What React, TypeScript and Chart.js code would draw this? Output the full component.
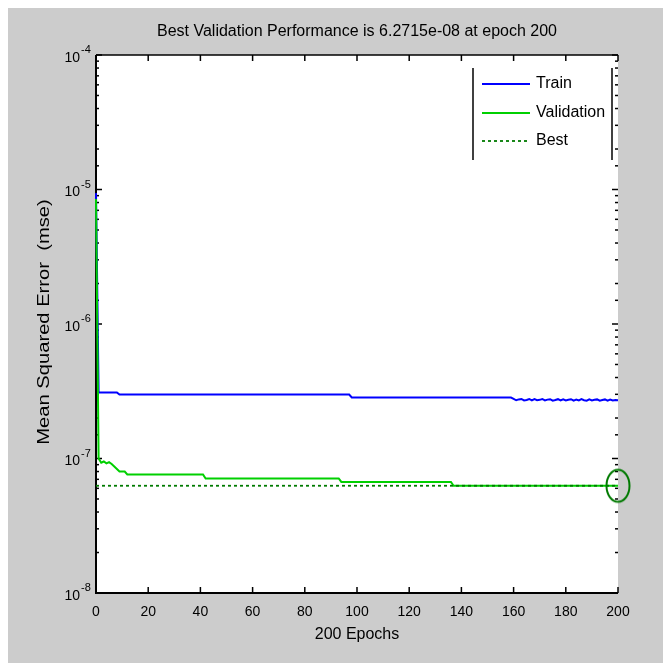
import React, { useEffect, useRef } from "react";
import { Chart, registerables } from "chart.js";

Chart.register(...registerables);

// ---------- data ----------
const titleText = "Best Validation Performance is 6.2715e-08 at epoch 200";
const xAxisTitle = "200 Epochs";
const yAxisTitle = "Mean Squared Error  (mse)";

const xTickValues = [0, 20, 40, 60, 80, 100, 120, 140, 160, 180, 200];
const yTickExponents = [-4, -5, -6, -7, -8];

const trainEpochs = [
  0, 1, 8, 9, 97, 98, 159,
  160, 161, 162, 163, 164, 165, 166, 167, 168, 169,
  170, 171, 172, 173, 174, 175, 176, 177, 178, 179,
  180, 181, 182, 183, 184, 185, 186, 187, 188, 189,
  190, 191, 192, 193, 194, 195, 196, 197, 198, 199, 200,
];
const trainValues = [
  9.4e-6, 3.1e-7, 3.1e-7, 2.985e-7, 2.985e-7, 2.84e-7, 2.84e-7,
  2.78e-7, 2.71e-7, 2.75e-7, 2.77e-7, 2.7e-7, 2.72e-7, 2.77e-7, 2.7e-7, 2.76e-7, 2.71e-7,
  2.73e-7, 2.77e-7, 2.7e-7, 2.74e-7, 2.76e-7, 2.69e-7, 2.72e-7, 2.76e-7, 2.7e-7, 2.75e-7,
  2.7e-7, 2.73e-7, 2.76e-7, 2.69e-7, 2.74e-7, 2.7e-7, 2.76e-7, 2.71e-7, 2.69e-7, 2.75e-7,
  2.7e-7, 2.73e-7, 2.75e-7, 2.69e-7, 2.72e-7, 2.75e-7, 2.69e-7, 2.74e-7, 2.7e-7, 2.72e-7, 2.71e-7,
];

const validationEpochs = [0, 1, 2, 3, 4, 5, 6, 9, 11, 12, 41, 42, 93, 94, 136, 137, 200];
const validationValues = [
  8.5e-6, 1.0e-7, 9.3e-8, 9.5e-8, 9.2e-8, 9.4e-8, 9.1e-8, 8.0e-8, 8.0e-8,
  7.6e-8, 7.6e-8, 7.1e-8, 7.1e-8, 6.7e-8, 6.7e-8, 6.2715e-8, 6.2715e-8,
];

const bestLineEpochs = [0, 200];
const bestEpoch = 200;
const bestValue = 6.2715e-8;

const legendLabels = ["Train", "Validation", "Best"];

// ---------- styles ----------
const FONT = '"Liberation Sans", Arial, Helvetica, sans-serif';
const TRAIN_COLOR = "#0000ff";
const VAL_COLOR = "#00d000";
const BEST_COLOR = "#007a00";

function makeEllipse(): HTMLCanvasElement {
  const c = document.createElement("canvas");
  c.width = 28;
  c.height = 37;
  const g = c.getContext("2d")!;
  g.strokeStyle = BEST_COLOR;
  g.lineWidth = 2;
  g.beginPath();
  g.ellipse(14, 18.5, 11.5, 16, 0, 0, Math.PI * 2);
  g.stroke();
  return c;
}

const line = (ctx: CanvasRenderingContext2D, x1: number, y1: number, x2: number, y2: number) => {
  ctx.beginPath();
  ctx.moveTo(x1, y1);
  ctx.lineTo(x2, y2);
  ctx.stroke();
};

const matlabPlugin = {
  id: "matlabLook",
  beforeDraw(chart: any) {
    const { ctx, chartArea: a } = chart;
    ctx.save();
    ctx.fillStyle = "#cccccc";
    ctx.fillRect(0, 0, chart.width, chart.height);
    ctx.fillStyle = "#ffffff";
    ctx.fillRect(a.left, a.top, a.right - a.left, a.bottom - a.top);
    ctx.restore();
  },
  beforeDatasetsDraw(chart: any) {
    const { ctx, chartArea: a, scales } = chart;
    const xs = scales.x;
    const ys = scales.y;
    ctx.save();
    ctx.strokeStyle = "#000";
    ctx.lineWidth = 1.5;
    for (const v of xTickValues) {
      const px = xs.getPixelForValue(v);
      line(ctx, px, a.bottom, px, a.bottom - 6);
      line(ctx, px, a.top, px, a.top + 6);
    }
    for (const t of ys.ticks) {
      const v = t.value;
      const lg = Math.log10(v);
      const major = Math.abs(lg - Math.round(lg)) < 1e-6;
      const len = major ? 6 : 3;
      const py = ys.getPixelForValue(v);
      if (py < a.top - 0.5 || py > a.bottom + 0.5) continue;
      line(ctx, a.left, py, a.left + len, py);
      line(ctx, a.right, py, a.right - len, py);
    }
    ctx.lineWidth = 2;
    line(ctx, a.left, a.top, a.left, a.bottom + 1);
    line(ctx, a.left - 1, a.bottom, a.right, a.bottom);
    ctx.lineWidth = 1.5;
    line(ctx, a.left, a.top, a.right, a.top);
    ctx.restore();
  },
  afterDraw(chart: any) {
    const { ctx, chartArea: a, scales } = chart;
    const xs = scales.x;
    const ys = scales.y;
    ctx.save();
    ctx.fillStyle = "#000";
    ctx.textBaseline = "middle";

    // tick labels
    ctx.font = `14px ${FONT}`;
    ctx.textAlign = "center";
    for (const v of xTickValues) {
      ctx.fillText(String(v), xs.getPixelForValue(v), a.bottom + 19);
    }
    for (const e of yTickExponents) {
      const py = ys.getPixelForValue(Math.pow(10, e));
      ctx.font = `14px ${FONT}`;
      ctx.textAlign = "right";
      ctx.fillText("10", a.left - 16, py + 3);
      ctx.font = `11px ${FONT}`;
      ctx.textAlign = "left";
      ctx.fillText(String(e), a.left - 15, py - 5);
    }

    // titles
    ctx.textAlign = "center";
    ctx.font = `16px ${FONT}`;
    ctx.fillText(titleText, (a.left + a.right) / 2, 24);
    ctx.fillText(xAxisTitle, (a.left + a.right) / 2, a.bottom + 42);
    ctx.save();
    ctx.translate(37, (a.top + a.bottom) / 2 - 2);
    ctx.rotate(-Math.PI / 2);
    ctx.scale(1.26, 1);
    ctx.fillText(yAxisTitle, 0, 0);
    ctx.restore();

    // legend
    const lx0 = a.right - 145;
    const lx1 = a.right - 6;
    ctx.strokeStyle = "#000";
    ctx.lineWidth = 1.5;
    line(ctx, lx0, a.top + 13, lx0, a.top + 105);
    line(ctx, lx1, a.top + 13, lx1, a.top + 105);
    const rows = [a.top + 29, a.top + 58, a.top + 86];
    const colors = [TRAIN_COLOR, VAL_COLOR, BEST_COLOR];
    rows.forEach((y, i) => {
      ctx.strokeStyle = colors[i];
      ctx.lineWidth = i === 2 ? 1.8 : 2;
      ctx.setLineDash(i === 2 ? [3, 3] : []);
      line(ctx, a.right - 136, y, a.right - 88, y);
      ctx.setLineDash([]);
      ctx.fillStyle = "#000";
      ctx.font = `16px ${FONT}`;
      ctx.textAlign = "left";
      ctx.fillText(legendLabels[i], a.right - 82, y);
    });
    ctx.restore();
  },
};

export default function App() {
  const ref = useRef<HTMLCanvasElement | null>(null);
  useEffect(() => {
    document.body.style.overflow = "hidden";
    const canvas = ref.current;
    if (!canvas) return;
    const ellipse = makeEllipse();
    const chart = new Chart(canvas, {
      type: "line",
      data: {
        datasets: [
          {
            label: legendLabels[0],
            data: trainEpochs.map((e, i) => ({ x: e, y: trainValues[i] })),
            borderColor: TRAIN_COLOR,
            borderWidth: 2,
            pointRadius: 0,
            tension: 0,
            clip: 3 as any,
            order: 3,
          },
          {
            label: legendLabels[1],
            data: validationEpochs.map((e, i) => ({ x: e, y: validationValues[i] })),
            borderColor: VAL_COLOR,
            borderWidth: 2,
            pointRadius: 0,
            tension: 0,
            clip: 3 as any,
            order: 2,
          },
          {
            label: legendLabels[2],
            data: bestLineEpochs.map((e) => ({ x: e, y: bestValue })),
            borderColor: BEST_COLOR,
            borderWidth: 1.8,
            borderDash: [3, 3],
            pointRadius: 0,
            tension: 0,
            order: 1,
          },
          {
            label: "Best point",
            data: [{ x: bestEpoch, y: bestValue }],
            showLine: false,
            pointStyle: ellipse as any,
            pointRadius: 12,
            borderColor: BEST_COLOR,
            backgroundColor: "transparent",
            clip: false as any,
            order: 0,
          },
        ],
      },
      options: {
        responsive: false,
        maintainAspectRatio: false,
        animation: false,
        devicePixelRatio: 1,
        layout: { padding: { left: 0, top: 47, right: 53, bottom: 0 } },
        plugins: {
          legend: { display: false },
          title: { display: false },
          tooltip: { enabled: false },
        },
        scales: {
          x: {
            type: "linear",
            min: 0,
            max: 200,
            ticks: { display: false, stepSize: 20 },
            grid: { display: false },
            border: { display: false },
            afterFit: (s: any) => {
              s.height = 70;
            },
          },
          y: {
            type: "logarithmic",
            min: 1e-8,
            max: 1e-4,
            ticks: { display: false },
            grid: { display: false },
            border: { display: false },
            afterFit: (s: any) => {
              s.width = 88;
            },
          },
        },
      },
      plugins: [matlabPlugin],
    } as any);
    return () => chart.destroy();
  }, []);
  return (
    <canvas
      ref={ref}
      width={663}
      height={655}
      style={{ display: "block", width: 663, height: 655 }}
    />
  );
}
